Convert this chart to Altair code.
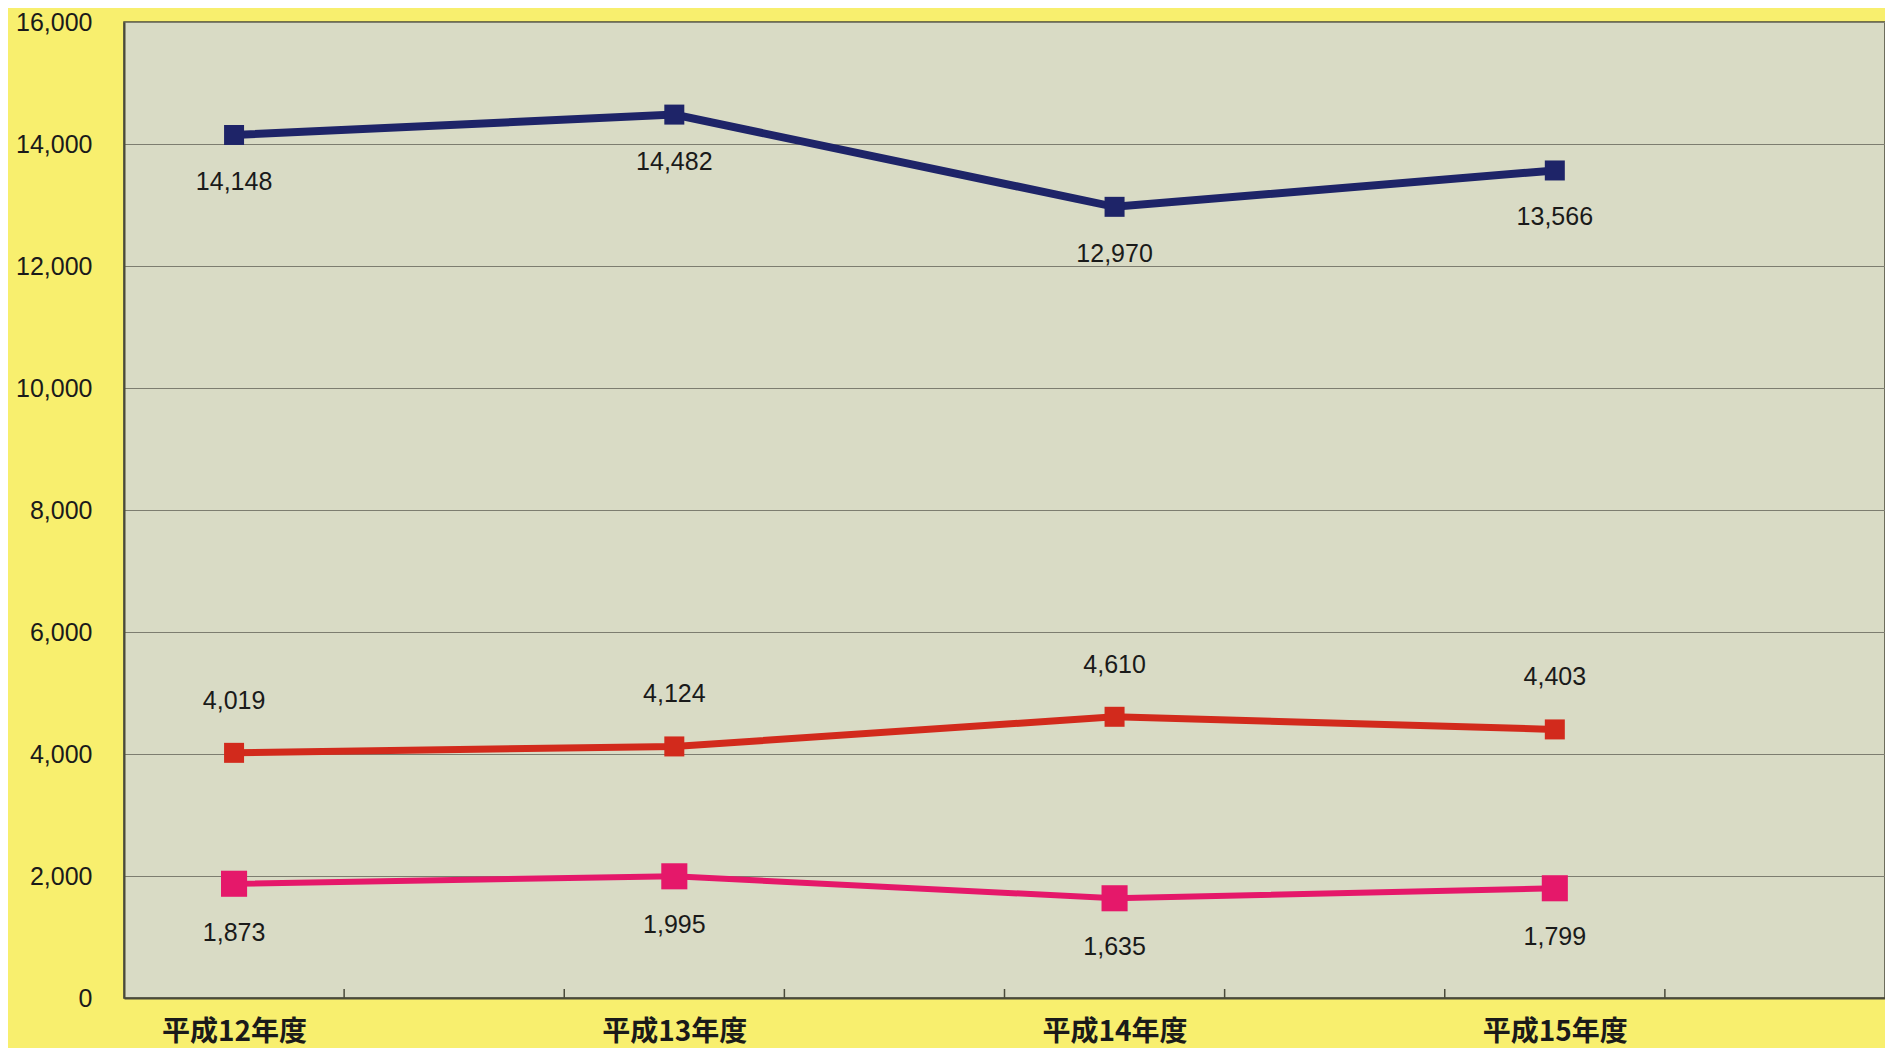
import altair as alt
import pandas as pd

years = ["平成12年度", "平成13年度", "平成14年度", "平成15年度"]
series_names = ["A", "B", "C"]
navy_vals = [14148, 14482, 12970, 13566]
red_vals = [4019, 4124, 4610, 4403]
pink_vals = [1873, 1995, 1635, 1799]
y_ticks = [0, 2000, 4000, 6000, 8000, 10000, 12000, 14000, 16000]
x_tick_marks = [1, 2, 3, 4, 5, 6, 7]

colors = {"A": "#1E2468", "B": "#D22A1C", "C": "#E5186A"}
widths = {"A": 8, "B": 7, "C": 6}
sizes = {"A": 400, "B": 400, "C": 680}
label_dy = {"A": 47, "B": -52, "C": 49}

rows = []
for name, vals in zip(series_names, [navy_vals, red_vals, pink_vals]):
    for i, (yr, v) in enumerate(zip(years, vals)):
        rows.append({"series": name, "year": yr, "pos": 2 * i + 0.5, "value": v})
df = pd.DataFrame(rows)

W, H = 1761, 976
FONT = "Liberation Sans"

label_arr = "[" + ",".join("'%s'" % y for y in years) + "]"
x_axis = alt.Axis(
    values=[0.5, 2.5, 4.5, 6.5],
    labelExpr=label_arr + "[floor(datum.value/2)]",
    ticks=False,
    grid=False,
    title=None,
    labelFont="Noto Sans CJK JP",
    labelFontSize=28,
    labelFontWeight="bold",
    labelColor="#1a1a1a",
    labelBaseline="top",
    labelPadding=20,
    labelOverlap=False,
    domainColor="#4a4a3a",
    domainWidth=2,
)
y_axis = alt.Axis(
    values=y_ticks,
    labelExpr="format(datum.value, ',')",
    ticks=False,
    grid=True,
    gridColor="#7d7d70",
    gridWidth=1,
    title=None,
    labelFont=FONT,
    labelFontSize=25,
    labelColor="#1a1a1a",
    labelPadding=32,
    labelOverlap=False,
    domainColor="#4a4a3a",
    domainWidth=2,
)

xs = alt.X("pos:Q", scale=alt.Scale(domain=[0, 8], nice=False, zero=False), axis=x_axis)
ys = alt.Y("value:Q", scale=alt.Scale(domain=[0, 16000], nice=False), axis=y_axis)

layers = []
for name in series_names:
    sub = alt.Chart(df).transform_filter(alt.datum.series == name)
    layers.append(
        sub.mark_line(color=colors[name], strokeWidth=widths[name]).encode(x=xs, y=ys)
    )
    layers.append(
        sub.mark_point(shape="square", filled=True, opacity=1, color=colors[name], size=sizes[name]).encode(x=xs, y=ys)
    )
    layers.append(
        sub.mark_text(font=FONT, fontSize=25, color="#1a1a1a", dy=label_dy[name], baseline="middle").encode(
            x=xs, y=ys, text=alt.Text("value:Q", format=",")
        )
    )

ticks_df = pd.DataFrame({"pos": x_tick_marks})
tick_layer = alt.Chart(ticks_df).mark_rule(color="#4a4a3a", strokeWidth=1.5).encode(
    x=xs,
    y=alt.value(H),
    y2=alt.value(H - 9),
)

chart = (
    alt.layer(*layers, tick_layer)
    .properties(
        width=W,
        height=H,
        background="#F8EF6E",
        padding={"left": 116, "top": 14, "right": 0, "bottom": 50},
        autosize=alt.AutoSizeParams(type="none"),
    )
    .configure_view(fill="#D9DBC5", stroke="#4a4a3a", strokeWidth=1.5)
)

chart.save("out.html", embed_options={"renderer": "svg", "actions": False})
